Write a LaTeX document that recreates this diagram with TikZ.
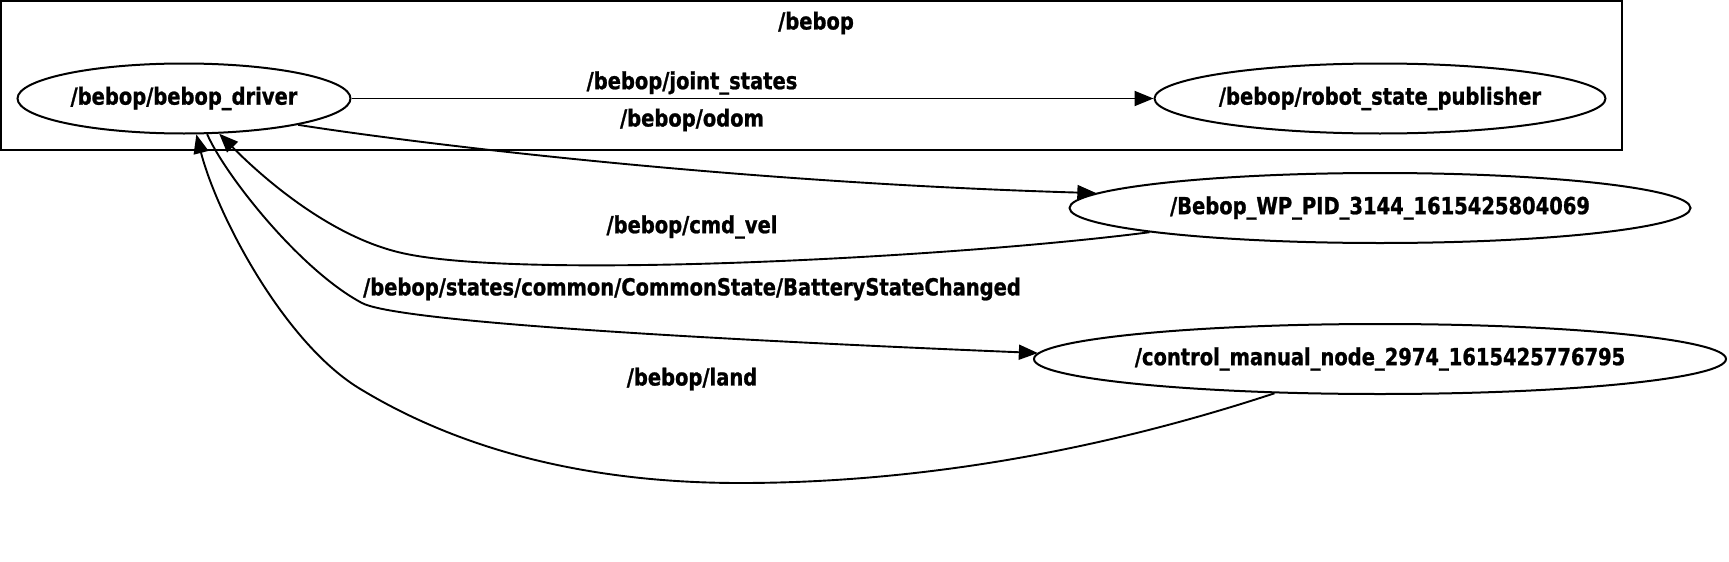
\documentclass[tikz,border=0pt]{standalone}
\usepackage{fontspec}
\setmainfont{DejaVu Sans}[FakeStretch=0.83,BoldFeatures={FakeBold=1}]
\usetikzlibrary{shapes.geometric,arrows.meta}
\begin{document}
\begin{tikzpicture}[x=1pt,y=-1pt,
  txt/.style={font=\fontsize{23.5}{26}\selectfont\bfseries, inner sep=0pt},
  nd/.style={ellipse,draw,line width=2pt,inner sep=0pt,minimum height=70pt,
     font=\fontsize{23.5}{26}\selectfont\bfseries},
  conn/.style={draw,line width=1.9pt,-{Triangle[length=19pt,width=15pt]}},
]
\useasboundingbox (0,0) rectangle (1729,562);
% cluster
\draw[line width=2pt] (1,1) rectangle (1622,150);
\node[txt] (clab) at (816,23) {/bebop};
% nodes
\node[nd,minimum width=333pt] (drv) at (184,98.5) {\makebox[0pt]{/bebop/bebop\_driver}};
\node[nd,minimum width=451pt] (rsp) at (1380,98.5) {\makebox[0pt]{/bebop/robot\_state\_publisher}};
\node[nd,minimum width=621pt] (wp) at (1380,208) {\makebox[0pt]{/Bebop\_WP\_PID\_3144\_1615425804069}};
\node[nd,minimum width=692pt] (ctl) at (1380,359) {\makebox[0pt]{/control\_manual\_node\_2974\_1615425776795}};
% labels
\node[txt] (ljs) at (692,83) {/bebop/joint\_states};
\node[txt] (lod) at (692,120) {/bebop/odom};
\node[txt] (lcv) at (692,227) {/bebop/cmd\_vel};
\node[txt] (lbat) at (692,289) {/bebop/states/common/CommonState/BatteryStateChanged};
\node[txt] (lland) at (692,379) {/bebop/land};
% edges
\path[conn] (drv.east) -- (rsp.west);
\path[conn] (drv.-13) .. controls (400,141) and (720,182) .. (wp.177.9);
\path[conn] (wp.186.8) .. controls (950,258) and (520,280) .. (402,253)
   .. controls (335,238) and (270,185) .. (drv.-45.8);
\path[conn] (drv.-57.6) .. controls (225,175) and (300,270) .. (362,303)
   .. controls (390,318) and (600,335) .. (ctl.179.2);
\path[conn] (ctl.198.7) .. controls (1081,457) and (900,483) .. (740,483)
   .. controls (600,483) and (470,455) .. (362,390)
   .. controls (285,345) and (217,215) .. (drv.-71);
\end{tikzpicture}
\end{document}
